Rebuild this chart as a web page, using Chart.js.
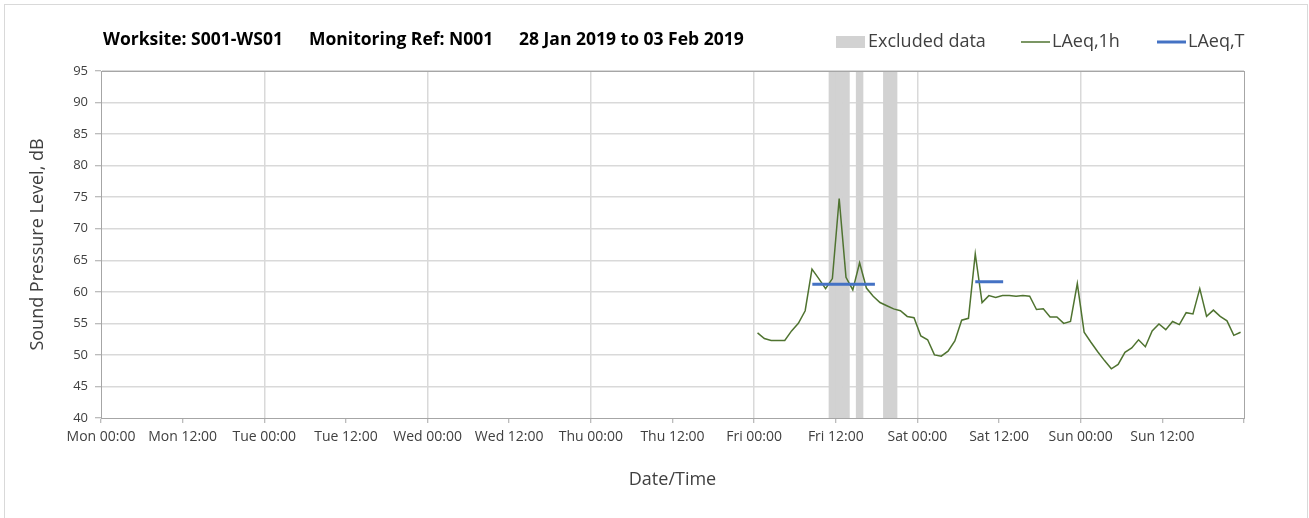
<!DOCTYPE html>
<html>
<head>
<meta charset="utf-8">
<script src="https://cdn.jsdelivr.net/npm/chart.js@4.4.0/dist/chart.umd.min.js"></script>
<style>
  html, body { margin: 0; padding: 0; background: #fff; }
  #wrap { width: 1309px; height: 518px; }
</style>
</head>
<body>
<div id="wrap"><canvas id="myChart" width="1309" height="518"></canvas></div>
<script>
// x axis is in hours from Mon 00:00 (0) to next Mon 00:00 (168)
var dayNames = ['Mon', 'Tue', 'Wed', 'Thu', 'Fri', 'Sat', 'Sun'];
var halfDayLabels = ['00:00', '12:00'];

// hourly LAeq,1h readings, first one is the Fri 00:00-01:00 hour
var firstHour = 96;
var laeq1h = [
  53.5, 52.6, 52.3, 52.3, 52.3, 53.8, 55.0, 57.0, 63.6, 62.1, 60.5, 62.1,
  74.8, 62.3, 60.3, 64.6, 60.6, 59.3, 58.3, 57.8, 57.3, 57.0, 56.1, 55.9,
  53.0, 52.4, 50.0, 49.8, 50.6, 52.2, 55.5, 55.8, 66.0, 58.3, 59.4, 59.1,
  59.4, 59.4, 59.3, 59.4, 59.3, 57.2, 57.3, 56.0, 56.0, 55.0, 55.3, 61.3,
  53.6, 52.0, 50.5, 49.1, 47.8, 48.5, 50.4, 51.1, 52.4, 51.3, 53.8, 54.9,
  54.0, 55.3, 54.8, 56.7, 56.5, 60.5, 56.1, 57.1, 56.1, 55.4, 53.1, 53.6
];

// LAeq,T periods (hours from Mon 00:00) and levels
var periodStart = [104.55, 128.5];
var periodEnd = [113.75, 132.6];
var periodLevel = [61.2, 61.6];

// hours flagged as excluded
var excludedHours = [107, 108, 109, 111, 115, 116];

var titleParts = ['Worksite: S001-WS01', 'Monitoring Ref: N001', '28 Jan 2019 to 03 Feb 2019'];

var yMin = 40, yMax = 95;

var linePoints = [];
for (var i = 0; i < laeq1h.length; i++) {
  linePoints.push({x: firstHour + i + 0.5, y: laeq1h[i]});
}
var periodPoints = [];
for (var i = 0; i < periodLevel.length; i++) {
  if (i > 0) periodPoints.push({x: (periodEnd[i - 1] + periodStart[i]) / 2, y: null});
  periodPoints.push({x: periodStart[i], y: periodLevel[i]});
  periodPoints.push({x: periodEnd[i], y: periodLevel[i]});
}
var excludedBars = [];
for (var i = 0; i < excludedHours.length; i++) {
  excludedBars.push({x: excludedHours[i] + 0.5, y: yMax});
}

var GREEN = '#4f7330';
var BLUE = '#4472c4';
var GREY = '#d2d2d2';
var TEXT = '#404040';

// title + legend row, and the outer frame
var headerPlugin = {
  id: 'header',
  beforeDraw: function(chart) {
    var c = chart.ctx;
    c.save();
    c.strokeStyle = '#d9d9d9';
    c.lineWidth = 1;
    c.strokeRect(4.5, 4.5, 1303, 520);
    c.restore();
  },
  afterDraw: function(chart) {
    var c = chart.ctx;
    var a = chart.chartArea;
    c.save();
    // plot frame
    c.strokeStyle = '#a6a6a6';
    c.lineWidth = 1;
    c.strokeRect(Math.round(a.left) + 0.5, Math.round(a.top) + 0.5,
                 Math.round(a.right - a.left), Math.round(a.bottom - a.top));
    c.textBaseline = 'middle';
    c.fillStyle = '#000';
    c.font = 'bold 17.5px "Open Sans"';
    var tx = [103, 309, 519];
    for (var i = 0; i < titleParts.length; i++) {
      c.fillText(titleParts[i], tx[i], 40);
    }

    var y = 42;
    c.font = '18px "Open Sans"';
    // excluded
    c.fillStyle = GREY;
    c.fillRect(836, 36, 29, 12);
    c.fillStyle = TEXT;
    c.fillText('Excluded data', 868, y);
    // LAeq,1h
    c.strokeStyle = GREEN;
    c.lineWidth = 1.5;
    c.beginPath(); c.moveTo(1021, y); c.lineTo(1050, y); c.stroke();
    c.fillText('LAeq,1h', 1052, y);
    // LAeq,T
    c.strokeStyle = BLUE;
    c.lineWidth = 3;
    c.beginPath(); c.moveTo(1157, y); c.lineTo(1186, y); c.stroke();
    c.fillText('LAeq,T', 1188, y);
    c.restore();
  }
};

const data = {
  datasets: [
    {
      type: 'line',
      label: 'LAeq,T',
      data: periodPoints,
      borderColor: BLUE,
      backgroundColor: BLUE,
      borderWidth: 3,
      pointRadius: 0,
      spanGaps: false,
      order: 1
    },
    {
      type: 'line',
      label: 'LAeq,1h',
      data: linePoints,
      borderColor: GREEN,
      backgroundColor: GREEN,
      borderWidth: 1.5,
      pointRadius: 0,
      tension: 0,
      order: 2
    },
    {
      type: 'bar',
      label: 'Excluded data',
      data: excludedBars,
      backgroundColor: GREY,
      borderWidth: 0,
      barPercentage: 1,
      categoryPercentage: 1,
      order: 3
    }
  ]
};

const config = {
  type: 'line',
  data: data,
  plugins: [headerPlugin],
  options: {
    responsive: false,
    animation: false,
    layout: {
      padding: {left: 0, right: 65, top: 71, bottom: 0}
    },
    plugins: {
      legend: { display: false },
      title: { display: false },
      tooltip: { enabled: false }
    },
    scales: {
      x: {
        type: 'linear',
        min: 0,
        max: 168,
        offset: false,
        afterFit: function(scale) { scale.height = 100; },
        ticks: {
          stepSize: 12,
          autoSkip: false,
          maxRotation: 0,
          padding: 6,
          color: TEXT,
          font: { family: '"Open Sans"', size: 14 },
          callback: function(v) {
            if (v >= 168) return '';
            return dayNames[Math.floor(v / 24)] + ' ' + halfDayLabels[(v % 24) / 12];
          }
        },
        grid: {
          offset: false,
          lineWidth: 1.5,
          tickLength: 5,
          tickWidth: 1,
          tickColor: '#a6a6a6',
          color: function(ctx) {
            if (!ctx.tick) return 'rgba(0,0,0,0)';
            var v = ctx.tick.value;
            if (v === 0 || v === 168) return 'rgba(0,0,0,0)';
            return v % 24 === 0 ? '#d9d9d9' : 'rgba(0,0,0,0)';
          }
        },
        border: { color: '#a6a6a6', width: 1 },
        title: {
          display: true,
          text: 'Date/Time',
          color: TEXT,
          font: { family: '"Open Sans"', size: 18 },
          padding: { top: 0, bottom: 27 }
        }
      },
      y: {
        min: yMin,
        max: yMax,
        afterFit: function(scale) { scale.width = 101; },
        ticks: {
          stepSize: 5,
          padding: 7,
          color: TEXT,
          font: { family: '"Open Sans"', size: 13 }
        },
        grid: {
          lineWidth: 1.5,
          tickLength: 6,
          tickWidth: 1,
          tickColor: '#a6a6a6',
          color: function(ctx) {
            if (!ctx.tick) return 'rgba(0,0,0,0)';
            return ctx.tick.value === yMin ? 'rgba(0,0,0,0)' : '#d9d9d9';
          }
        },
        border: { color: '#a6a6a6', width: 1 },
        title: {
          display: true,
          text: 'Sound Pressure Level, dB',
          color: TEXT,
          font: { family: '"Open Sans"', size: 18 },
          padding: { top: 27, bottom: 0 }
        }
      }
    }
  }
};

var ctx = document.getElementById('myChart').getContext('2d');
var myChart = new Chart(ctx, config);
</script>
</body>
</html>
